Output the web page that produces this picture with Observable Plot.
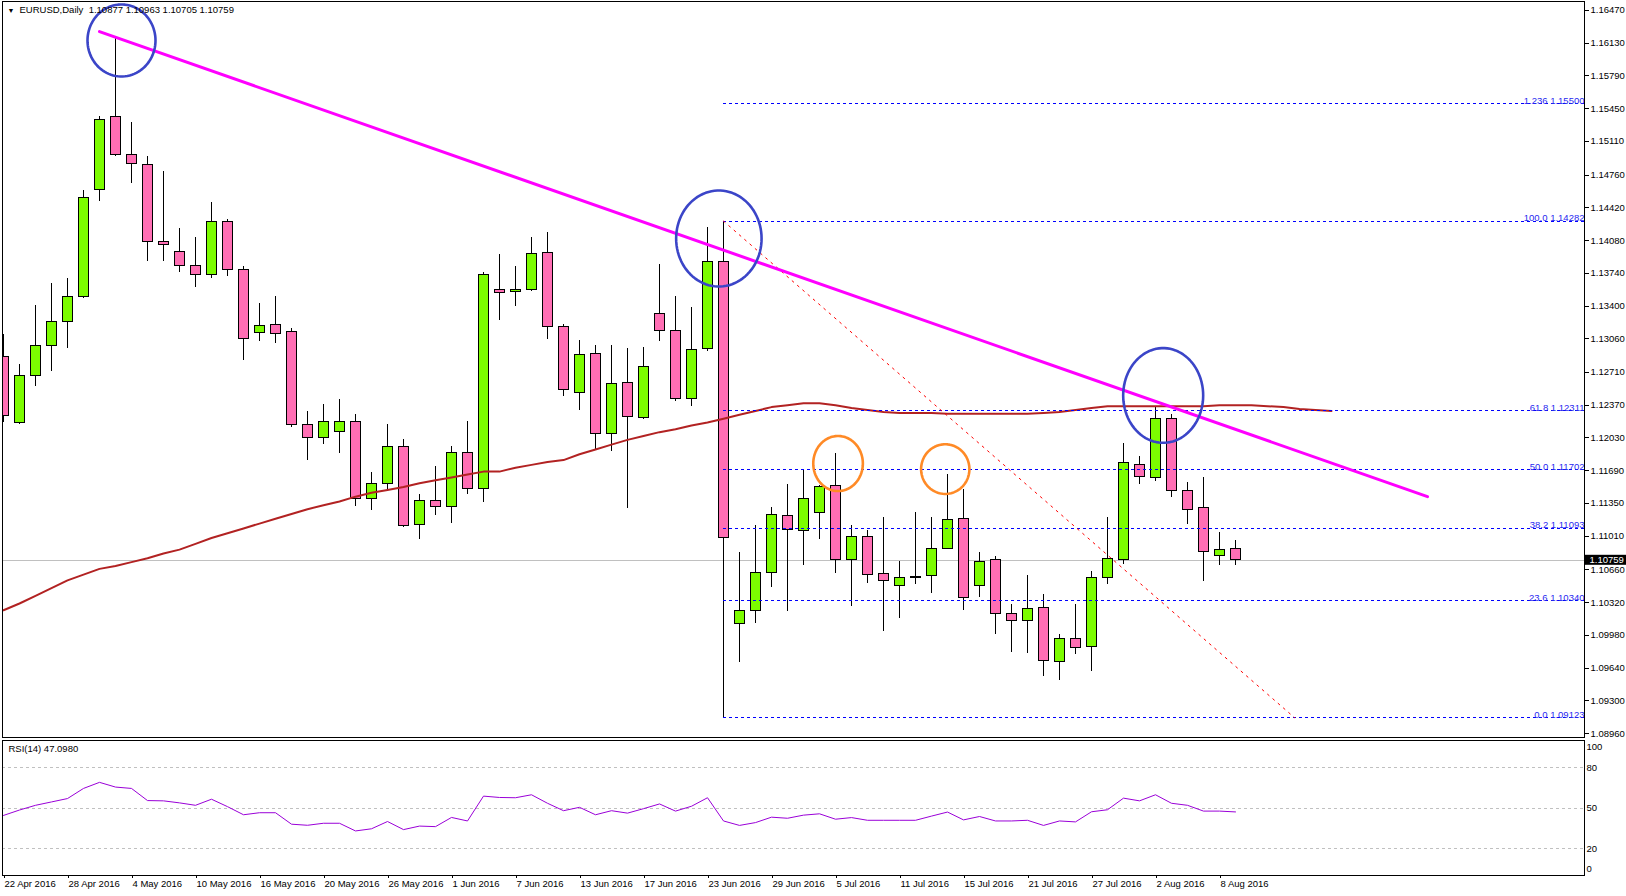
<!DOCTYPE html>
<html><head><meta charset="utf-8">
<script src="https://cdn.jsdelivr.net/npm/d3@7"></script>
<script src="https://cdn.jsdelivr.net/npm/@observablehq/plot@0.6"></script>
<style>
html,body{margin:0;padding:0;background:#fff;overflow:hidden}
#chart svg{display:block}
</style></head><body><div id="chart"></div>
<script>
// ---------------- data ----------------
const symbolName = "EURUSD,Daily";
const dates = ["22 Apr 2016","25 Apr 2016","26 Apr 2016","27 Apr 2016","28 Apr 2016","29 Apr 2016","2 May 2016","3 May 2016","4 May 2016","5 May 2016",
"6 May 2016","9 May 2016","10 May 2016","11 May 2016","12 May 2016","13 May 2016","16 May 2016","17 May 2016","18 May 2016","19 May 2016",
"20 May 2016","23 May 2016","24 May 2016","25 May 2016","26 May 2016","27 May 2016","30 May 2016","31 May 2016","1 Jun 2016","2 Jun 2016",
"3 Jun 2016","6 Jun 2016","7 Jun 2016","8 Jun 2016","9 Jun 2016","10 Jun 2016","13 Jun 2016","14 Jun 2016","15 Jun 2016","16 Jun 2016",
"17 Jun 2016","20 Jun 2016","21 Jun 2016","22 Jun 2016","23 Jun 2016","24 Jun 2016","27 Jun 2016","28 Jun 2016","29 Jun 2016","30 Jun 2016",
"1 Jul 2016","4 Jul 2016","5 Jul 2016","6 Jul 2016","7 Jul 2016","8 Jul 2016","11 Jul 2016","12 Jul 2016","13 Jul 2016","14 Jul 2016",
"15 Jul 2016","18 Jul 2016","19 Jul 2016","20 Jul 2016","21 Jul 2016","22 Jul 2016","25 Jul 2016","26 Jul 2016","27 Jul 2016","28 Jul 2016",
"29 Jul 2016","1 Aug 2016","2 Aug 2016","3 Aug 2016","4 Aug 2016","5 Aug 2016","8 Aug 2016","9 Aug 2016"];
const open = [1.1287,1.1218,1.1267,1.1298,1.1323,1.1349,1.1460,1.1536,1.1497,1.1486,
1.1406,1.1396,1.1382,1.1372,1.1427,1.1377,1.1312,1.1320,1.1313,1.1216,
1.1203,1.1209,1.1220,1.1140,1.1155,1.1194,1.1113,1.1138,1.1131,1.1187,
1.1150,1.1357,1.1355,1.1357,1.1395,1.1318,1.1250,1.1290,1.1207,1.1260,
1.1224,1.1332,1.1314,1.1243,1.1295,1.1386,1.1010,1.1023,1.1063,1.1122,
1.1106,1.1125,1.1153,1.1076,1.1100,1.1062,1.1049,1.1057,1.1060,1.1088,
1.1119,1.1049,1.1076,1.1020,1.1013,1.1026,1.0970,1.0994,1.0986,1.1058,
1.1076,1.1175,1.1161,1.1223,1.1148,1.1130,1.1080,1.10877];
const high = [1.1310,1.1279,1.1341,1.1363,1.1369,1.1460,1.1537,1.1618,1.1531,1.1495,
1.1480,1.1420,1.1411,1.1447,1.1430,1.1381,1.1343,1.1350,1.1317,1.1230,
1.1238,1.1243,1.1227,1.1167,1.1217,1.1201,1.1144,1.1173,1.1194,1.1220,
1.1375,1.1394,1.1381,1.1411,1.1416,1.1321,1.1304,1.1299,1.1299,1.1296,
1.1297,1.1383,1.1350,1.1338,1.1422,1.14282,1.1084,1.1112,1.1131,1.1155,
1.1170,1.1154,1.1187,1.1112,1.1107,1.1120,1.1075,1.1126,1.1120,1.1165,
1.1149,1.1084,1.1080,1.1030,1.1060,1.1040,1.0999,1.1030,1.1064,1.1120,
1.1197,1.1184,1.1235,1.1227,1.1157,1.1162,1.1105,1.10963];
const low = [1.1219,1.1217,1.1256,1.1272,1.1296,1.1348,1.1449,1.1495,1.1467,1.1386,
1.1386,1.1375,1.1359,1.1369,1.1371,1.1283,1.1303,1.1301,1.1214,1.1180,
1.1196,1.1187,1.1132,1.1128,1.1147,1.1110,1.1097,1.1122,1.1114,1.1144,
1.1136,1.1325,1.1339,1.1355,1.1305,1.1246,1.1232,1.1190,1.1189,1.1130,
1.1222,1.1303,1.1241,1.1236,1.1293,1.09123,1.0970,1.1010,1.1048,1.1023,
1.1071,1.1097,1.1062,1.1028,1.1052,1.1002,1.1015,1.1051,1.1041,1.1087,
1.1024,1.1037,1.0999,1.0980,1.0979,1.0955,1.0951,1.0978,1.0960,1.1051,
1.1072,1.1155,1.1158,1.1141,1.1113,1.1054,1.1071,1.10705];
const close = [1.1226,1.1267,1.1298,1.1323,1.1349,1.1452,1.1533,1.1497,1.1488,1.1406,
1.1403,1.1382,1.1372,1.1427,1.1377,1.1306,1.1319,1.1311,1.1216,1.1203,
1.1220,1.1220,1.1140,1.1155,1.1194,1.1112,1.1138,1.1131,1.1187,1.1150,
1.1372,1.1354,1.1357,1.1394,1.1318,1.1253,1.1289,1.1207,1.1259,1.1225,
1.1277,1.1314,1.1243,1.1294,1.1386,1.1099,1.1023,1.1063,1.1123,1.1107,
1.1140,1.1152,1.1076,1.1100,1.1061,1.1054,1.1057,1.1059,1.1088,1.1118,
1.1037,1.1074,1.1020,1.1013,1.1025,1.0971,1.0994,1.0985,1.1058,1.1077,
1.1177,1.1162,1.1223,1.1148,1.1128,1.1085,1.1087,1.10759];
const rsi = [44.5,48.5,52,54.5,57,64.5,69,65.5,64.5,55.5,
55.3,53.8,52,56.5,51,45,46.5,46.5,38,37.2,
38.7,38.7,33,34.6,40,34,36.6,36.2,43,40.4,
58.8,57.8,57.6,59.8,53.5,48,50.5,45,48,46.2,
49.5,53,47.7,51.3,57.6,40.4,37.1,39.2,43.2,42.4,
44.7,45.7,41.7,42.9,40.9,40.9,40.9,40.9,44,47,
41.2,43.7,40.4,40.4,40.9,37.1,40.4,39.7,47.2,48.7,
57.3,55.3,59.8,53.5,52,47.7,47.7,47.098];
const rsiPeriod = 14;
// moving average, drawn shifted forward (values per bar slot, incl. 6 future slots)
const movingAvg = [1.1024,1.1031,1.1039,1.1047,1.1055,1.1061,1.1067,1.1070,1.1074,1.1078,
1.1083,1.1087,1.1093,1.1099,1.1104,1.1109,1.1114,1.1119,1.1124,1.1129,
1.1133,1.1137,1.1142,1.1146,1.1149,1.1152,1.1156,1.1159,1.1162,1.1165,
1.1168,1.1168,1.1172,1.1175,1.1178,1.1180,1.1186,1.1191,1.1196,1.1201,
1.1205,1.1209,1.1212,1.1216,1.1219,1.1223,1.1227,1.1231,1.1235,1.1237,
1.1239,1.1239,1.1237,1.1234,1.1232,1.1230,1.1229,1.1229,1.1229,1.1228,
1.1228,1.1228,1.1228,1.1228,1.1228,1.1229,1.1230,1.1232,1.1234,1.1236,
1.1236,1.1236,1.1236,1.1236,1.1236,1.1236,1.1237,1.1237,1.1237,1.1236,
1.1235,1.1233,1.1232,1.1231];
const priceTicks = [1.08960,1.09300,1.09640,1.09980,1.10320,1.10660,1.11010,1.11350,1.11690,1.12030,
1.12370,1.12710,1.13060,1.13400,1.13740,1.14080,1.14420,1.14760,1.15110,1.15450,1.15790,1.16130,1.16470];
const rsiTicks = [80, 50, 20];
const rsiTop = 100, rsiBottom = 0;
const dateTicks = ["22 Apr 2016","28 Apr 2016","4 May 2016","10 May 2016","16 May 2016","20 May 2016","26 May 2016","1 Jun 2016","7 Jun 2016","13 Jun 2016",
"17 Jun 2016","23 Jun 2016","29 Jun 2016","5 Jul 2016","11 Jul 2016","15 Jul 2016","21 Jul 2016","27 Jul 2016","2 Aug 2016","8 Aug 2016"];
const fibNames = ["0.0","23.6","38.2","50.0","61.8","100.0","1.236"];
const fibPrices = [1.09123,1.10340,1.11093,1.11702,1.12311,1.14282,1.15500];
const fibAnchorBars = [45, 80.7];
const fibAnchorPrices = [1.14282, 1.09123];
const trendBars = [6, 89];
const trendPrices = [1.1625, 1.1142];
const circleNames = ["top","brexit","aug","jul5","jul13"];
const circleBars = [7.375, 44.71, 72.48, 52.16, 58.86];
const circlePrices = [1.16158, 1.14101, 1.12471, 1.11764, 1.11706];
const circleHalfWidthBars = [2.125, 2.67, 2.5, 1.55, 1.51];
const circleHalfHeightPrice = [0.00374, 0.00499, 0.00492, 0.00286, 0.00258];
const circleKinds = ["blue","blue","blue","orange","orange"];

// ---------------- build ----------------
const W = 1626, H1 = 739, H2 = 157;
const ML = 2, MR = 42;
const xDomain = [-1/16, 98.8125];
const pxPerBar = (W - ML - MR) / (xDomain[1] - xDomain[0]);
const yDomain = [1.089185, 1.165628];
const pxPerPrice = (H1 - 3) / (yDomain[1] - yDomain[0]);
const font = "'Liberation Sans', Arial, sans-serif";
const n = close.length;
const bars = d3.range(n).map(i => ({i, o: open[i], h: high[i], l: low[i], c: close[i], up: close[i] >= open[i]}));
const ma = movingAvg.map((v, i) => ({i, v}));
const last = bars[n - 1];
const headerText = symbolName + "  " + [last.o, last.h, last.l, last.c].map(v => v.toFixed(5)).join(" ");

const ellipsePts = [];
circleBars.forEach((cx, k) => {
  for (let a = 0; a <= 360; a += 4) {
    const t = a * Math.PI / 180;
    ellipsePts.push({k, kind: circleKinds[k], x: cx + circleHalfWidthBars[k] * Math.cos(t), y: circlePrices[k] + circleHalfHeightPrice[k] * Math.sin(t)});
  }
});
const fibRows = fibPrices.map((p, i) => ({p, label: fibNames[i] + " " + p.toFixed(5)}));

const main = Plot.plot({
  width: W, height: H1,
  marginLeft: ML, marginRight: MR, marginTop: 1, marginBottom: 2,
  style: {fontFamily: font, fontSize: "9.5px", background: "white", color: "black"},
  x: {domain: xDomain, axis: null},
  y: {domain: yDomain, axis: null},
  marks: [
    Plot.ruleY([last.c], {stroke: "#c0c0c0", strokeWidth: 1, shapeRendering: "crispEdges"}),
    Plot.ruleX(bars, {x: "i", y1: "l", y2: "h", stroke: "black", strokeWidth: 1, shapeRendering: "crispEdges", clip: true}),
    Plot.rect(bars, {x1: d => d.i - 5/16, x2: d => d.i + 5/16, y1: "o", y2: "c",
      fill: d => d.up ? "#7CFC00" : "#FF6EB4", stroke: "black", strokeWidth: 1, shapeRendering: "crispEdges", clip: true}),
    Plot.line(ma, {x: "i", y: "v", stroke: "#B22222", strokeWidth: 2, clip: true}),
    Plot.ruleY(fibRows, {y: "p", x1: fibAnchorBars[0], x2: xDomain[1], stroke: "#0000FF", strokeWidth: 1, strokeDasharray: "3,3", shapeRendering: "crispEdges"}),
    Plot.text(fibRows, {x: xDomain[1], y: "p", text: "label", textAnchor: "end", lineAnchor: "bottom", dy: 0, fill: "#2828F0", fontSize: 9.5}),
    Plot.line(fibAnchorBars.map((b, i) => ({b, p: fibAnchorPrices[i]})), {x: "b", y: "p", stroke: "#FF0000", strokeWidth: 1, strokeDasharray: "2,5"}),
    Plot.line(trendBars.map((b, i) => ({b, p: trendPrices[i]})), {x: "b", y: "p", stroke: "#FF00FF", strokeWidth: 3}),
    Plot.line(ellipsePts, {x: "x", y: "y", z: "k", stroke: d => d.kind === "blue" ? "#3B45C8" : "#FF8A26", strokeWidth: 2.6}),
    Plot.text(["\u25BC"], {frameAnchor: "top-left", dx: 5, dy: 7, fontSize: 7, textAnchor: "start", lineAnchor: "top"}),
    Plot.text([headerText], {frameAnchor: "top-left", dx: 17, dy: 5, textAnchor: "start", lineAnchor: "top", fill: "black"}),
    Plot.frame({stroke: "black", strokeWidth: 1, shapeRendering: "crispEdges"}),
    Plot.axisY(priceTicks, {anchor: "right", label: null, tickSize: 4, tickPadding: 2, tickFormat: d => d.toFixed(5), fontSize: 9.5, shapeRendering: "crispEdges"}),
    Plot.rect([last.c], {x1: xDomain[1] + 1/pxPerBar, x2: xDomain[1] + 44/pxPerBar, y1: d => d - 5/pxPerPrice, y2: d => d + 5/pxPerPrice, fill: "black"}),
    Plot.text([last.c], {x: xDomain[1], y: d => d, dx: 5, text: d => d.toFixed(5), textAnchor: "start", fill: "white", fontSize: 9.5})
  ]
});

const tickIdx = dateTicks.map(t => dates.indexOf(t));
const rsiRows = rsi.map((v, i) => ({i, v}));
const lower = Plot.plot({
  width: W, height: H2,
  marginLeft: ML, marginRight: MR, marginTop: 1, marginBottom: 21,
  style: {fontFamily: font, fontSize: "9.5px", background: "white", color: "black"},
  x: {domain: xDomain, axis: null},
  y: {domain: [0, 100], axis: null},
  marks: [
    Plot.ruleY(rsiTicks, {stroke: "#C0C0C0", strokeDasharray: "3,3", shapeRendering: "crispEdges"}),
    Plot.line(rsiRows, {x: "i", y: "v", stroke: "#9A00D8", strokeWidth: 1, clip: true}),
    Plot.text(["RSI(" + rsiPeriod + ") " + rsi[n - 1].toFixed(4)], {frameAnchor: "top-left", dx: 6, dy: 5, textAnchor: "start", lineAnchor: "top"}),
    Plot.frame({stroke: "black", strokeWidth: 1, shapeRendering: "crispEdges"}),
    Plot.axisY(rsiTicks, {anchor: "right", label: null, tickSize: 0, tickPadding: 2, fontSize: 9.5}),
    Plot.text([{v: rsiTop}], {x: () => xDomain[1], y: "v", dx: 2, dy: 6, text: d => String(d.v), textAnchor: "start", fontSize: 9.5}),
    Plot.text([{v: rsiBottom}], {x: () => xDomain[1], y: "v", dx: 2, dy: -7, text: d => String(d.v), textAnchor: "start", fontSize: 9.5}),
    Plot.axisX(tickIdx, {anchor: "bottom", label: null, tickSize: 3, tickPadding: 2, textAnchor: "start", dx: 1, tickFormat: i => dates[i], fontSize: 9.5, shapeRendering: "crispEdges"})
  ]
});

document.getElementById("chart").append(main, lower);
</script></body></html>
